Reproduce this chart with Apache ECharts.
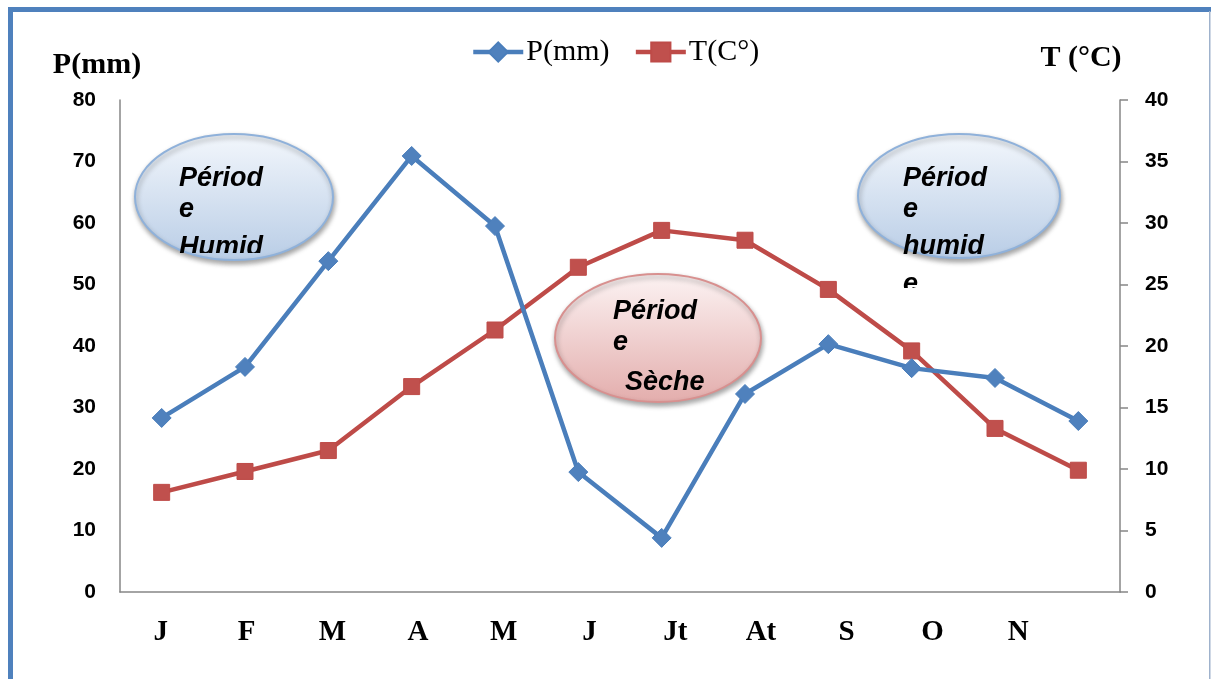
<!DOCTYPE html>
<html>
<head>
<meta charset="utf-8">
<title>P(mm) / T(°C)</title>
<script src="https://cdn.jsdelivr.net/npm/echarts@6/dist/echarts.min.js"></script>
<style>
  html, body { margin: 0; padding: 0; background: #fff; }
  #chart { width: 1212px; height: 679px; }
</style>
</head>
<body>
<div id="chart"></div>
<script>
// Monthly precipitation (mm) and mean temperature (°C)
const months = ['J', 'F', 'M', 'A', 'M', 'J', 'Jt', 'At', 'S', 'O', 'N', 'D'];
const monthLabels = ['J', 'F', 'M', 'A', 'M', 'J', 'Jt', 'At', 'S', 'O', 'N'];
const precipitation = [28.3, 36.6, 53.8, 70.9, 59.5, 19.5, 8.8, 32.2, 40.3, 36.4, 34.8, 27.8];
const temperature = [8.1, 9.8, 11.5, 16.7, 21.3, 26.4, 29.4, 28.6, 24.6, 19.6, 13.3, 9.9];
const pTicks = { min: 0, max: 80, interval: 10 };
const tTicks = { min: 0, max: 40, interval: 5 };

const BLUE = '#4a7ebb';
const RED = '#be4b48';
const AXIS = '#868686';
const SERIF = '"Liberation Serif", "Times New Roman", serif';
const SANS = '"Liberation Sans", Arial, sans-serif';

const chart = echarts.init(document.getElementById('chart'), null, { renderer: 'canvas' });

function blueFill() {
  return new echarts.graphic.LinearGradient(0, 0, 0, 1, [
    { offset: 0, color: '#f3f7fc' },
    { offset: 1, color: '#b9cde6' }
  ]);
}
function pinkFill() {
  return new echarts.graphic.LinearGradient(0, 0, 0, 1, [
    { offset: 0, color: '#fcf3f3' },
    { offset: 1, color: '#e3adac' }
  ]);
}
const shadow = { shadowBlur: 5, shadowOffsetX: 1, shadowOffsetY: 3, shadowColor: 'rgba(0,0,0,0.35)' };

const option = {
  backgroundColor: '#fff',
  animation: false,
  legend: {
    left: 466,
    top: 32,
    itemWidth: 50,
    itemHeight: 24,
    itemGap: 24,
    lineStyle: { width: 4.5 },
    textStyle: { fontFamily: SERIF, fontSize: 30, color: '#000', padding: [0, 0, 0, -2] },
    data: ['P(mm)', 'T(C°)']
  },
  grid: [
    { left: 120, right: 92, top: 100, bottom: 87 },
    { left: 118, width: 943, top: 100, bottom: 87 }
  ],
  xAxis: [
    {
      type: 'category',
      gridIndex: 0,
      data: months,
      boundaryGap: true,
      axisLine: { lineStyle: { color: AXIS, width: 1.5 } },
      axisTick: { show: false },
      axisLabel: { show: false }
    },
    {
      type: 'category',
      gridIndex: 1,
      data: monthLabels,
      boundaryGap: true,
      axisLine: { show: false },
      axisTick: { show: false },
      axisLabel: {
        margin: 26,
        fontFamily: SERIF,
        fontWeight: 'bold',
        fontSize: 29,
        color: '#000'
      }
    }
  ],
  yAxis: [
    {
      type: 'value',
      gridIndex: 0,
      position: 'left',
      min: pTicks.min, max: pTicks.max, interval: pTicks.interval,
      name: 'P(mm)',
      nameLocation: 'end',
      nameGap: 20,
      nameTextStyle: {
        fontFamily: SERIF, fontWeight: 'bold', fontSize: 30, color: '#000',
        align: 'center', padding: [0, 46, 0, 0]
      },
      axisLine: { show: true, lineStyle: { color: AXIS, width: 1.5 } },
      axisTick: { show: false },
      splitLine: { show: false },
      axisLabel: { margin: 24, fontFamily: SANS, fontWeight: 'bold', fontSize: 21, color: '#000' }
    },
    {
      type: 'value',
      gridIndex: 0,
      position: 'right',
      min: tTicks.min, max: tTicks.max, interval: tTicks.interval,
      name: 'T (°C)',
      nameLocation: 'end',
      nameGap: 27,
      nameTextStyle: {
        fontFamily: SERIF, fontWeight: 'bold', fontSize: 30, color: '#000',
        align: 'center', padding: [0, 78, 0, 0]
      },
      axisLine: { show: true, lineStyle: { color: AXIS, width: 1.5 } },
      axisTick: { show: true, length: 8, lineStyle: { color: AXIS, width: 1.5 } },
      splitLine: { show: false },
      axisLabel: { margin: 25, fontFamily: SANS, fontWeight: 'bold', fontSize: 21, color: '#000' }
    },
    {
      type: 'value',
      gridIndex: 1,
      min: 0, max: 1,
      show: false
    }
  ],
  series: [
    {
      name: 'P(mm)',
      type: 'line',
      xAxisIndex: 0,
      yAxisIndex: 0,
      data: precipitation,
      symbol: 'diamond',
      symbolSize: 19,
      lineStyle: { color: BLUE, width: 4.5 },
      itemStyle: { color: '#4f81bd', borderColor: BLUE, borderWidth: 1 },
      z: 3
    },
    {
      name: 'T(C°)',
      type: 'line',
      xAxisIndex: 0,
      yAxisIndex: 1,
      data: temperature,
      symbol: 'rect',
      symbolSize: 16,
      lineStyle: { color: RED, width: 4.5 },
      itemStyle: { color: '#c0504d', borderColor: RED, borderWidth: 1 },
      z: 2
    }
  ],
  graphic: [
    // frame
    { type: 'rect', shape: { x: 8, y: 7, width: 1203, height: 5 }, style: { fill: '#4f81bd' }, z: 1 },
    { type: 'rect', shape: { x: 8, y: 7, width: 5, height: 680 }, style: { fill: '#4f81bd' }, z: 1 },
    { type: 'rect', shape: { x: 1209, y: 11, width: 1.5, height: 680 }, style: { fill: '#9fb2cc' }, z: 1 },
    // period bubbles
    {
      type: 'ellipse', shape: { cx: 234, cy: 197, rx: 99, ry: 63 },
      style: Object.assign({ fill: blueFill(), stroke: '#8fb1da', lineWidth: 2 }, shadow), z: 50
    },
    {
      type: 'ellipse', shape: { cx: 658, cy: 338, rx: 103, ry: 64 },
      style: Object.assign({ fill: pinkFill(), stroke: '#d8908f', lineWidth: 2 }, shadow), z: 50
    },
    {
      type: 'ellipse', shape: { cx: 959, cy: 196, rx: 101, ry: 62 },
      style: Object.assign({ fill: blueFill(), stroke: '#8fb1da', lineWidth: 2 }, shadow), z: 50
    }
  ]
};

chart.setOption(option);

// Bubble captions: text boxes clipped at their lower edge
const NOTE_FONT = 'italic bold 27px ' + SANS;
function addCaption(lines, clip) {
  const group = new echarts.graphic.Group();
  lines.forEach(function (l) {
    group.add(new echarts.graphic.Text({
      z: 100,
      style: { text: l[0], x: l[1], y: l[2], font: NOTE_FONT, fill: '#000', verticalAlign: 'middle', align: 'left' }
    }));
  });
  group.setClipPath(new echarts.graphic.Rect({ shape: clip }));
  chart.getZr().add(group);
}

addCaption([['Périod', 179, 179], ['e', 179, 210], ['Humid', 179, 248], ['e', 179, 286]],
  { x: 140, y: 140, width: 200, height: 113 });
addCaption([['Périod', 613, 312], ['e', 613, 343], ['Sèche', 625, 383]],
  { x: 560, y: 280, width: 200, height: 130 });
addCaption([['Périod', 903, 179], ['e', 903, 210], ['humid', 903, 247], ['e', 903, 285]],
  { x: 870, y: 140, width: 200, height: 148 });
</script>
</body>
</html>
